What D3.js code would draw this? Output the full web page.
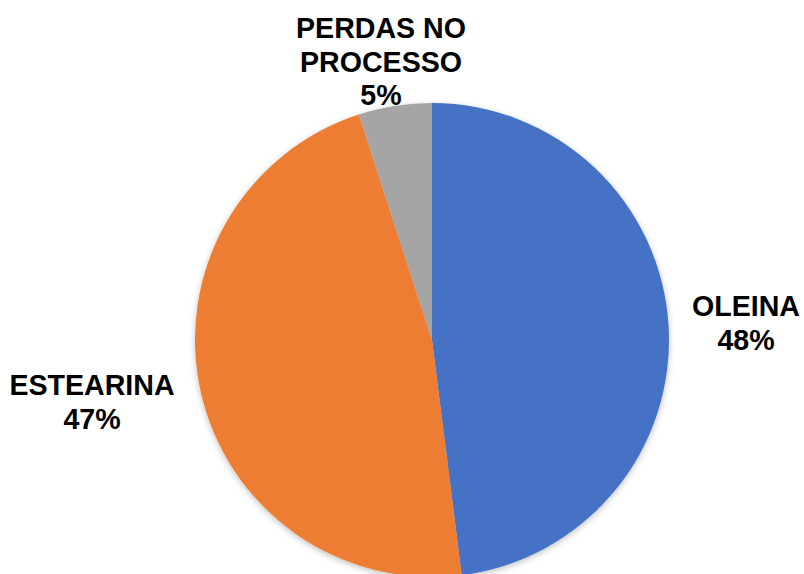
<!DOCTYPE html>
<html><head><meta charset="utf-8">
<script src="https://cdn.jsdelivr.net/npm/d3@7"></script>
<style>body{margin:0;background:#fff}svg{display:block}</style>
</head><body>
<script>
const categories = ["OLEINA", "ESTEARINA", "PERDAS NO PROCESSO"];
const values = [48, 47, 5];
const labels = ["48%", "47%", "5%"];
const colors = ["#4472C4", "#ED7D31", "#A5A5A5"];

const W = 804, H = 574;
const svg = d3.select("body").append("svg").attr("width", W).attr("height", H);
const defs = svg.append("defs");
const f = defs.append("filter").attr("id","sh").attr("x","-10%").attr("y","-10%").attr("width","120%").attr("height","120%");
f.append("feDropShadow").attr("dx",0).attr("dy",2).attr("stdDeviation",3).attr("flood-color","#000").attr("flood-opacity",0.25);

const cx = 432, cy = 340, r = 237;
const data = categories.map((c,i)=>({cat:c, value:values[i], label:labels[i], color:colors[i]}));
const pie = d3.pie().value(d=>d.value).sort(null);
const arc = d3.arc().innerRadius(0).outerRadius(r);
const g = svg.append("g").attr("transform",`translate(${cx},${cy})`).attr("filter","url(#sh)");
g.selectAll("path").data(pie(data)).join("path").attr("d",arc).attr("fill",d=>d.data.color);

const labelPos = [
  {x:746, y:316, lines:["OLEINA","48%"]},
  {x:92, y:395, lines:["ESTEARINA","47%"]},
  {x:381, y:38, lines:["PERDAS NO","PROCESSO","5%"]}
];
labelPos.forEach((p,i)=>{
  const t = svg.append("text").attr("x",p.x).attr("y",p.y)
    .attr("text-anchor","middle").attr("font-family","Liberation Sans, Arial, sans-serif")
    .attr("font-weight","bold").attr("font-size",28.6).attr("fill","#000");
  const lines = p.lines.slice(0,-1).concat([data[i].label]);
  lines.forEach((l,j)=>t.append("tspan").attr("x",p.x).attr("dy", j===0?0:33.5).text(l));
});
</script>
</body></html>
